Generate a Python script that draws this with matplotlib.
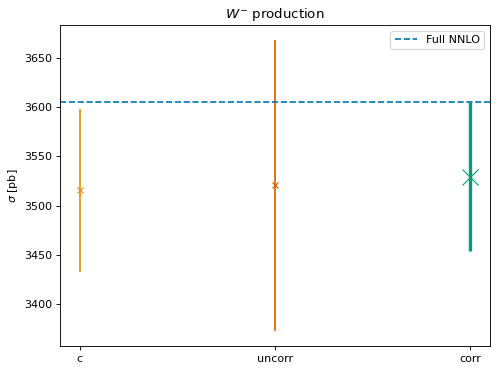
import matplotlib
matplotlib.use("Agg")
import matplotlib.pyplot as plt

# 数据
labels = ['c', 'uncorr', 'corr']
central = [3515.5, 3520.5, 3529.5]
err = [82.5, 148.0, 75.5]
colors = ['#DE8F05', '#D55E00', '#029E73']
full_nnlo = 3605.0

fig, ax = plt.subplots(figsize=(498 / 80, 373 / 80), dpi=80)

xs = list(range(len(labels)))
# c 和 uncorr 用细线, corr 用粗线和大标记
ax.errorbar(xs[0], central[0], yerr=err[0], fmt='x', color=colors[0], ms=6, lw=1.5)
ax.errorbar(xs[1], central[1], yerr=err[1], fmt='x', color=colors[1], ms=6, lw=1.5)
ax.errorbar(xs[2], central[2], yerr=err[2], fmt='x', color=colors[2], ms=15, lw=3)

ax.axhline(full_nnlo, ls='--', color='#0173B2', label='Full NNLO')

ax.set_xticks(xs)
ax.set_xticklabels(labels)
ax.set_ylabel(r'$\sigma$ [pb]')
ax.set_title(r'$W^{-}$ production')
ax.legend(loc='upper right')

plt.subplots_adjust(left=0.1205, right=0.984, bottom=0.0724, top=0.933)
plt.savefig('out.png', dpi=80)
